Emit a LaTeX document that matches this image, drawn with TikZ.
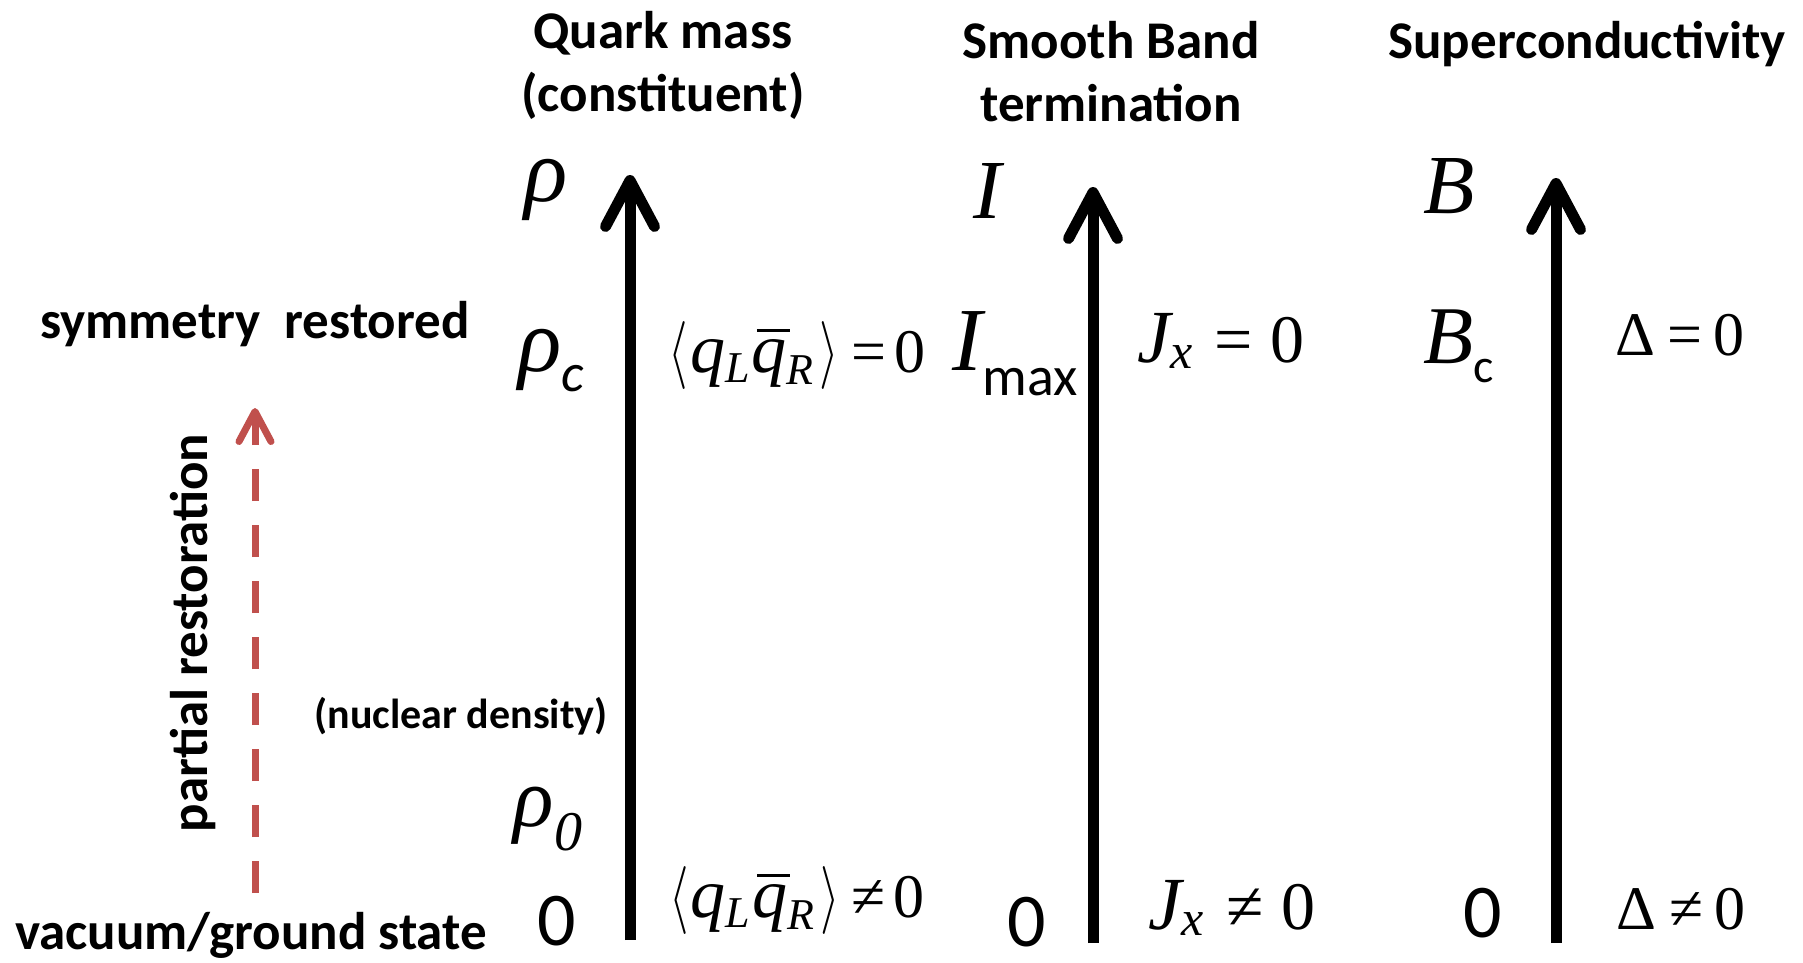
\documentclass[tikz,border=0pt]{standalone}
\usepackage{graphicx}
\usepackage{fontspec}
\setmainfont{Carlito}
\newfontfamily\tms{Liberation Serif}
\usetikzlibrary{arrows.meta}
\definecolor{redarrow}{HTML}{C0504D}
\newcommand{\fs}[1]{\fontsize{#1}{#1}\selectfont}
\newcommand{\lab}{\scalebox{5}[6.8]{\normalsize$\langle$}}
\newcommand{\rab}{\scalebox{5}[6.8]{\normalsize$\rangle$}}
\newcommand{\qbar}{\rlap{\kern5pt\raisebox{40pt}{\rule{33pt}{3pt}}}q}
\newcommand{\qlqr}{\lab\kern2pt{\itshape\fs{70}q\raisebox{-10pt}{\fs{44}L}\kern2pt\qbar\raisebox{-12pt}{\fs{44}R}}\kern6pt\rab}
\begin{document}
\begin{tikzpicture}[x=1pt,y=-1pt,
  title/.style={font=\bfseries\fontsize{53}{63}\selectfont, align=center, inner sep=0pt},
  lbl/.style={font=\bfseries\fontsize{53}{63}\selectfont, inner sep=0pt},
  small/.style={font=\bfseries\fontsize{42}{48}\selectfont, inner sep=0pt},
  sym/.style={font=\tms\itshape, inner sep=0pt, anchor=base},
  eq/.style={font=\tms\fs{62}, inner sep=0pt, anchor=base, text depth=0pt},
  zero/.style={font=\fs{76}, inner sep=0pt, anchor=base, text depth=0pt},
  axis/.style={line width=11pt, -{Straight Barb[length=46pt,width=49pt,round]}},
  redarr/.style={draw=redarrow, line width=7pt, dash pattern=on 32pt off 24pt,
    -{Straight Barb[length=30pt,width=32pt,round]}}]
\useasboundingbox (0,0) rectangle (1803,962);
% titles
\node[title] (t1) at (663,65) {Quark mass\\(constituent)};
\node[title] (t2) at (1111,72) {Smooth Band\\termination};
\node[title] (t3) at (1587,44) {Superconductivity};
% left labels
\node[lbl] (sym) at (255,324) {symmetry\ \ restored};
\node[lbl, text depth=0pt, anchor=base] (vac) at (251,949) {vacuum/ground state};
\node[small] (nuc) at (461,716) {(nuclear density)};
\node[lbl, rotate=90] (part) at (193,633) {partial restoration};
% red dashed arrow
\coordinate (rb) at (255,893);
\coordinate (rt) at (255,408);
\draw[redarr] (rb) -- (rt);
% axes
\coordinate (a1b) at (630,940);
\coordinate (a1t) at (630,175);
\coordinate (a2b) at (1093,943);
\coordinate (a2t) at (1093,187);
\coordinate (a3b) at (1556,943);
\coordinate (a3t) at (1556,178);
\draw[axis] (a1b) -- (a1t);
\draw[axis] (a2b) -- (a2t);
\draw[axis] (a3b) -- (a3t);
% column 1
\node[sym, font=\tms\itshape\fs{90}] (rho) at (546,201) {ρ};
\node[sym, font=\tms\itshape\fs{90}] (rhoc) at (551,371) {ρ\raisebox{-20pt}{\rmfamily\itshape\fs{54}c}};
\node[eq] (e1) at (797,372) {\qlqr\kern12pt=\kern8pt0};
\node[sym, font=\tms\itshape\fs{84}] (rho0) at (548,826) {ρ\raisebox{-24pt}{\fs{56}0}};
\node[zero] (z1) at (557,945) {0};
\node[eq] (e2) at (797,917) {\qlqr\kern12pt≠\kern8pt0};
% column 2
\node[sym, font=\tms\itshape\fs{84}] (I) at (987,218) {I};
\node[sym, font=\tms\itshape\fs{90}] (Imax) at (1015,370) {I\raisebox{-25pt}{\upshape\rmfamily\fs{56}max}};
\node[eq, font=\tms\fs{68}] (e3) at (1221,362) {{\itshape\fs{75}J\raisebox{-6pt}{\fs{50}x}}\kern22pt=\kern18pt0};
\node[zero] (z2) at (1027,946) {0};
\node[eq, font=\tms\fs{68}] (e4) at (1232,929) {{\itshape\fs{75}J\raisebox{-6pt}{\fs{50}x}}\kern22pt≠\kern18pt0};
% column 3
\node[sym, font=\tms\itshape\fs{84}] (B) at (1449,213) {B};
\node[sym, font=\tms\itshape\fs{82}] (Bc) at (1459,363) {B\raisebox{-19pt}{\upshape\rmfamily\fs{48}c}};
\node[eq] (e5) at (1680,355) {Δ\kern13pt=\kern11pt0};
\node[zero] (z3) at (1483,937) {0};
\node[eq] (e6) at (1681,929) {Δ\kern13pt≠\kern11pt0};
\end{tikzpicture}
\end{document}
